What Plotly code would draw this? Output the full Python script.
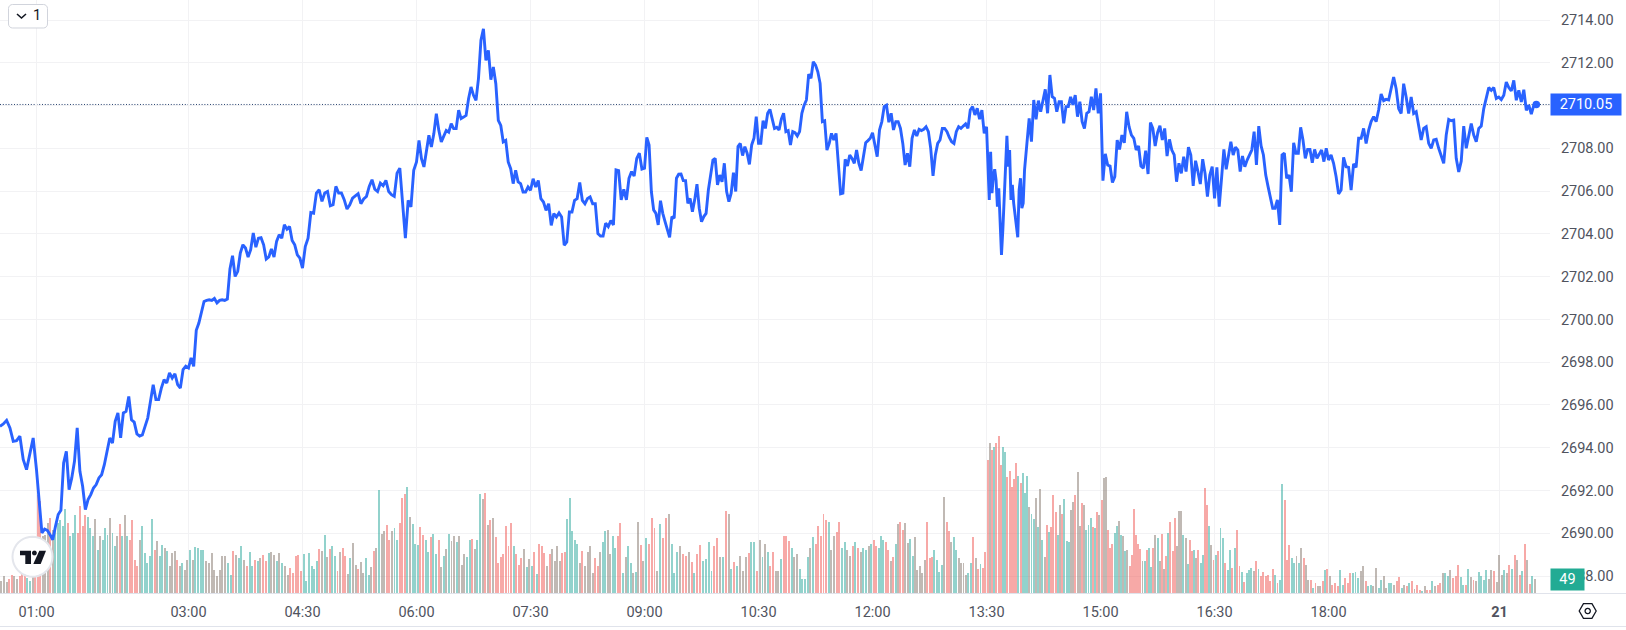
import numpy as np
import plotly.graph_objects as go

W, H = 1626, 630
tick_minutes = [60, 180, 270, 360, 450, 540, 630, 720, 810, 900, 990, 1080, 1215]
tick_labels = ["01:00", "03:00", "04:30", "06:00", "07:30", "09:00", "10:30", "12:00", "13:30", "15:00", "16:30", "18:00", "<b>21</b>"]
price_ticks = [2688, 2690, 2692, 2694, 2696, 2698, 2700, 2702, 2704, 2706, 2708, 2710, 2712, 2714]
last_price = 2710.05
last_volume = 49

price_0031 = [2695.0, 2695.11, 2695.28, 2694.93, 2694.3, 2694.33, 2694.54, 2693.45, 2692.98, 2693.68, 2694.46, 2692.98]
price_0100 = [2691.34, 2690.02, 2690.2, 2690.14, 2689.94, 2689.7, 2690.33, 2690.88, 2691.08, 2693.29, 2693.83, 2692.04, 2692.59, 2693.37, 2694.93, 2692.9, 2692.2, 2691.11, 2691.58, 2691.81, 2692.12, 2692.28, 2692.59, 2692.74, 2693.21, 2693.91, 2694.46, 2694.22, 2695.24, 2695.63, 2694.46, 2695.63, 2695.7, 2696.4, 2695.31, 2695.2, 2694.65, 2694.55, 2694.6, 2695.0, 2695.4, 2696.17, 2696.95, 2696.25, 2696.25, 2696.79, 2697.18, 2697.03, 2697.5, 2697.26, 2697.46, 2696.95, 2696.79, 2697.65, 2697.81, 2697.73]
price_0300 = [2698.2, 2697.81, 2699.49, 2699.83, 2700.38, 2700.84, 2700.89, 2700.92, 2700.89, 2700.98, 2700.77, 2700.89, 2700.92, 2700.89, 2700.95, 2702.36, 2702.98, 2702.01, 2702.25, 2703.1, 2703.49, 2703.34, 2702.92, 2703.26, 2704.04, 2703.38, 2703.8, 2703.82, 2703.49, 2702.82, 2702.92, 2703.29, 2702.92, 2703.65, 2703.96, 2703.8, 2704.43, 2704.22, 2704.35, 2703.69, 2703.49, 2703.02, 2702.87, 2702.4]
price_0430 = [2703.41, 2703.8, 2705.0, 2704.97, 2705.91, 2706.06, 2705.52, 2705.91, 2705.98, 2705.31, 2705.36, 2706.22, 2705.91, 2705.91, 2705.6, 2705.16, 2705.36, 2705.67, 2705.78, 2705.88, 2705.41, 2705.63, 2705.75, 2706.22, 2706.53, 2706.09, 2705.98, 2706.37, 2706.25, 2706.5, 2705.98, 2705.83, 2705.75, 2706.84, 2707.07, 2705.44, 2703.8, 2705.57, 2705.26, 2706.97, 2707.36]
price_0600 = [2708.37, 2707.52, 2707.13, 2707.83, 2708.61, 2708.06, 2708.69, 2709.62, 2708.84, 2708.3, 2708.61, 2708.84, 2708.76, 2709.15, 2708.92, 2708.92, 2709.78, 2709.39, 2709.46, 2709.54, 2710.32, 2710.87, 2710.48, 2710.24, 2711.26, 2713.05, 2713.59, 2712.11, 2712.58, 2711.21, 2711.8, 2711.02, 2709.31, 2709.07, 2708.3, 2708.37, 2707.36, 2707.05, 2706.35, 2706.97, 2706.43, 2706.35, 2705.96, 2705.96, 2706.19, 2706.04]
price_0730 = [2706.58, 2706.19, 2706.5, 2705.65, 2705.49, 2705.1, 2705.41, 2704.4, 2704.95, 2704.79, 2704.98, 2704.79, 2703.47, 2703.62, 2705.02, 2705.02, 2705.57, 2705.65, 2706.4, 2705.57, 2705.41, 2705.65, 2705.73, 2705.41, 2705.41, 2704.01, 2703.9, 2703.9, 2704.5, 2704.34, 2704.62, 2704.42, 2706.99, 2706.96, 2705.59, 2706.08, 2705.59, 2706.6, 2706.91, 2706.71, 2707.53, 2707.77, 2707.03, 2707.07]
price_0900 = [2708.51, 2708.16, 2705.98, 2705.12, 2704.96, 2704.42, 2705.55, 2704.96, 2704.57, 2704.18, 2703.84, 2704.81, 2704.73, 2706.6, 2706.79, 2706.8, 2706.49, 2706.49, 2705.43, 2705.66, 2705.04, 2705.59, 2706.32, 2705.2, 2704.57, 2704.81, 2704.96, 2706.05, 2706.75, 2707.45, 2707.53, 2706.29, 2706.75, 2706.44, 2707.3, 2705.98, 2705.51, 2705.9, 2706.86, 2705.98, 2708.08, 2708.23, 2707.66, 2708.08, 2707.77, 2707.25, 2708.16, 2708.47, 2709.48, 2708.23]
price_1030 = [2708.23, 2709.29, 2708.93, 2709.64, 2709.82, 2709.4, 2708.93, 2708.98, 2708.86, 2709.36, 2709.64, 2708.78, 2708.83, 2708.16, 2708.78, 2708.73, 2708.58, 2708.78, 2709.64, 2710.02, 2710.26, 2711.47, 2711.27, 2712.05, 2711.89, 2711.58, 2711.04, 2709.25, 2709.29, 2707.92, 2708.23, 2708.7, 2708.39, 2708.7, 2707.14, 2705.87, 2705.9, 2707.49, 2707.17, 2707.69, 2707.53, 2707.3, 2707.92, 2707.3, 2706.96, 2707.61, 2708.26, 2708.36, 2708.47, 2708.73]
price_1200 = [2708.16, 2707.61, 2708.86, 2709.25, 2709.95, 2710.02, 2709.22, 2709.64, 2708.86, 2709.25, 2709.25, 2708.93, 2708.23, 2707.22, 2707.77, 2707.14, 2708.47, 2708.86, 2708.58, 2708.89, 2708.83, 2708.89, 2709.01, 2708.78, 2708.0, 2706.71, 2707.69, 2708.23, 2708.39, 2708.93, 2708.93, 2708.78, 2708.51, 2708.31, 2708.23, 2708.78, 2709.01, 2708.93, 2709.04, 2709.14, 2708.93, 2709.79, 2709.95, 2709.56, 2709.87, 2709.36, 2709.79, 2708.7, 2709.01]
price_1330 = [2707.14, 2705.59, 2707.84, 2705.9, 2706.68, 2707.02, 2706.52, 2705.27, 2706.13, 2704.34, 2703.02, 2704.18, 2705.9, 2707.77, 2708.58, 2707.14, 2707.92, 2705.59, 2706.29, 2705.43, 2704.88, 2704.34, 2703.84, 2706.05, 2706.6, 2705.2, 2705.43, 2706.99]
price_1400 = [2708.39, 2709.4, 2708.31, 2710.26, 2709.36, 2710.23, 2709.71, 2710.26, 2710.76, 2709.64, 2711.43, 2710.41, 2710.34, 2709.71, 2710.18, 2710.18, 2709.17, 2709.95, 2709.95, 2710.41, 2710.03, 2710.49, 2709.48, 2710.18, 2709.25, 2708.93, 2709.64, 2709.71, 2710.41, 2709.79, 2710.8, 2709.64, 2710.57]
price_1500 = [2706.49, 2707.74, 2707.22, 2707.17, 2706.4, 2706.68, 2708.39, 2707.95, 2708.62, 2708.26, 2709.71, 2709.01, 2708.62, 2708.47, 2707.92, 2708.11, 2707.17, 2707.07, 2707.89, 2706.8, 2709.21, 2708.93, 2708.11, 2708.73, 2709.06, 2708.39, 2708.93, 2707.64, 2708.42, 2707.92, 2707.69, 2706.44, 2707.3, 2706.83, 2707.61, 2706.91, 2708.05, 2707.69, 2706.24, 2707.42, 2706.91, 2706.33, 2707.49, 2706.83, 2705.74, 2706.75, 2707.14, 2705.66]
price_1630 = [2707.11, 2705.27, 2706.6, 2707.95, 2707.02, 2707.61, 2708.31, 2707.69, 2708.05, 2707.92, 2706.91, 2707.64, 2707.14, 2707.45, 2707.69, 2707.92, 2708.78, 2707.22, 2709.04, 2708.11, 2707.69, 2706.75, 2706.21, 2705.66, 2705.2, 2705.2, 2705.59, 2704.42, 2707.69, 2707.77, 2706.6, 2706.75, 2705.97, 2708.26, 2707.77, 2707.77, 2708.98, 2708.39, 2707.53, 2707.95, 2707.95, 2707.33, 2707.95, 2707.53, 2707.74, 2707.92, 2707.38, 2708.0, 2707.45]
price_1800 = [2707.69, 2707.3, 2706.68, 2705.87, 2706.05, 2707.58, 2707.14, 2707.11, 2706.05, 2707.27, 2707.11, 2708.47, 2708.47, 2708.93, 2708.23, 2708.84, 2709.25, 2709.48, 2709.25, 2709.79, 2710.54, 2710.23, 2710.29, 2710.26, 2710.73, 2711.33, 2710.79, 2709.86, 2709.63, 2711.02, 2710.4, 2709.63, 2710.4, 2709.63, 2709.71, 2708.98, 2708.39, 2708.93, 2709.01, 2708.23, 2708.0, 2708.39, 2708.42, 2708.0, 2707.69, 2707.3, 2708.62, 2709.35, 2709.29, 2709.32, 2707.53, 2706.9, 2707.4, 2709.04, 2708.0, 2708.62, 2709.16, 2708.62, 2708.31, 2708.93, 2709.04, 2709.86, 2710.37, 2710.84, 2710.71, 2710.84, 2710.33, 2710.4, 2710.28, 2710.48, 2711.1, 2710.84, 2710.68, 2711.18, 2710.25, 2710.71, 2710.17, 2710.74, 2709.78, 2710.02, 2709.6, 2710.02, 2710.05]

vol_0031 = [45, 60, 38, 50, 65, 62, 52, 60, 70, 65, 55, 45, 60, 70]
vol_0100 = [354, 330, 204, 210, 252, 270, 228, 240, 252, 264, 240, 302, 252, 204, 216, 282, 216, 314, 240, 282, 274, 234, 204, 266, 156, 204, 192, 234, 210, 270, 216, 168, 204, 250, 204, 282, 204, 192, 262, 120, 96, 192, 240, 144, 108, 132, 266, 156, 186, 132, 174, 162, 150, 96, 144, 150, 120, 96, 108, 84, 120]
vol_0300 = [154, 120, 166, 162, 156, 156, 114, 108, 144, 84, 60, 84, 132, 132, 108, 66, 150, 138, 126, 170, 120, 96, 146, 96, 120, 114, 126, 138, 114, 144, 146, 138, 114, 144, 108, 96, 66, 90, 72, 134, 138, 78]
vol_0430 = [142, 43, 145, 99, 85, 116, 159, 153, 209, 128, 159, 168, 135, 78, 149, 162, 135, 68, 125, 180, 102, 85, 111, 71, 125, 64, 92, 153, 163, 372, 213, 224, 244, 192, 224, 234, 192, 253, 341, 355, 383, 273, 248, 178]
vol_0600 = [173, 239, 210, 192, 149, 202, 213, 142, 192, 92, 135, 159, 213, 187, 206, 185, 206, 102, 139, 131, 192, 196, 159, 192, 355, 338, 359, 244, 263, 270, 202, 107, 131, 142, 241, 168, 253, 168, 142, 102, 125, 159, 92, 121]
vol_0730 = [99, 149, 68, 178, 168, 145, 99, 139, 159, 114, 168, 114, 145, 149, 266, 341, 224, 192, 178, 107, 153, 99, 146, 170, 71, 125, 99, 149, 182, 224, 227, 142, 206, 163, 206, 253, 71, 128, 170, 107, 71, 74, 256, 173, 114]
vol_0900 = [199, 178, 270, 234, 78, 248, 199, 270, 284, 178, 71, 149, 170, 142, 135, 149, 111, 71, 142, 173, 114, 121, 182, 78, 170, 199, 128, 128, 295, 284, 85, 111, 99, 135, 78, 128, 145, 185, 185, 78]
vol_1030 = [192, 128, 178, 149, 99, 149, 78, 78, 121, 206, 206, 187, 163, 128, 142, 85, 50, 50, 128, 163, 202, 178, 241, 206, 284, 263, 256, 156, 206, 220, 256, 163, 185, 156, 135, 170, 185, 163, 149, 163, 156, 170, 178]
vol_1200 = [192, 170, 163, 206, 192, 185, 156, 114, 128, 178, 248, 256, 227, 251, 179, 193, 133, 203, 83, 97, 71, 119, 256, 125, 129, 155, 119, 77, 101, 345, 257, 225, 185, 201, 155, 125, 109, 107, 65, 71, 107, 203, 125, 85, 103, 89, 149]
vol_1330 = [479, 539, 515, 527, 539, 565, 461, 525, 509, 419, 441, 383, 409, 469, 421, 397, 431, 359, 421, 311, 285, 265, 341, 237, 373, 191, 131, 245, 221, 239, 353, 293, 209, 317, 285, 337, 189, 185, 299, 329, 353, 437, 241, 323, 317, 227, 245, 269, 239, 233, 293, 281]
vol_1500 = [336, 414, 418, 228, 162, 178, 216, 240, 258, 210, 204, 150, 156, 96, 138, 302, 210, 178, 158, 114, 114, 156, 162, 94, 162, 210, 198, 114, 212, 86, 134, 216, 254, 150, 270, 170, 296, 294, 210, 198, 106, 192, 150, 156, 126, 156, 108, 138, 378, 318, 240, 174, 120]
vol_1630 = [138, 150, 234, 198, 108, 84, 156, 90, 162, 228, 96, 74, 38, 72, 84, 90, 78, 114, 86, 60, 74, 60, 66, 42, 86, 66, 36, 48, 394, 336, 118, 174, 126, 108, 134, 108, 162, 126, 102, 48, 46, 18, 36, 24, 24, 42, 84, 86]
vol_1800 = [60, 30, 36, 24, 84, 30, 54, 36, 72, 72, 74, 54, 78, 96, 42, 24, 30, 24, 90, 18, 48, 60, 18, 36, 36, 30, 42, 58, 18, 30, 26, 36, 42, 14, 30, 10, 6, 24, 10, 10, 42, 24, 30, 36, 72, 72, 60, 84, 54, 60, 102, 58, 30, 30, 86, 58, 48, 42, 74, 60, 48, 82, 52, 82, 80, 40, 136, 64, 84, 72, 100, 88, 136, 118, 64, 80, 175, 120, 34, 60, 49]

X_AT_LEFT, X_AT_RIGHT, X_LAST = 31.2, 1254.8, 1244
Y_BOTTOM, Y_TOP = 2687.21, 2714.935
VOL_TOP = 2135
PLOT_R, PLOT_B = 1550, 593

price_segments = [(31.2, 60, price_0031, True), (60, 180, price_0100, False), (180, 270, price_0300, False),
                  (270, 360, price_0430, False), (360, 450, price_0600, False), (450, 540, price_0730, False),
                  (540, 630, price_0900, False), (630, 720, price_1030, False), (720, 810, price_1200, False),
                  (810, 840, price_1330, False), (840, 900, price_1400, False), (900, 990, price_1500, False),
                  (990, 1080, price_1630, False), (1080, X_LAST, price_1800, False)]
t_p, p = [], []
for a, b, vals, first in price_segments:
    ts = np.linspace(a, b, len(vals)) if first else np.linspace(a, b, len(vals) + 1)[1:]
    t_p.extend(ts)
    p.extend(vals)
t_p, p = np.array(t_p), np.array(p)

vol_segments = [(31.2, 60, vol_0031), (60, 180, vol_0100), (180, 270, vol_0300), (270, 360, vol_0430),
                (360, 450, vol_0600), (450, 540, vol_0730), (540, 630, vol_0900), (630, 720, vol_1030),
                (720, 810, vol_1200), (810, 900, vol_1330), (900, 990, vol_1500), (990, 1080, vol_1630),
                (1080, X_LAST, vol_1800)]
t_v, v = [], []
for a, b, vals in vol_segments:
    step = (b - a) / len(vals)
    t_v.extend(a + step * (np.arange(len(vals)) + 0.5))
    v.extend(vals)
t_v, v = np.array(t_v), np.array(v, dtype=float)

# up / down read from the price path; a slot with little net move holds both an up and a down minute
change = np.interp(t_v + 1.2, t_p, p) - np.interp(t_v - 1.2, t_p, p)
FLAT = 0.22
up = np.where(change >= FLAT, v, np.nan)
down = np.where(change <= -FLAT, v, np.nan)
both = np.where(np.abs(change) < FLAT, v, np.nan)

fig = go.Figure()
for values, colour, name in [(up, "rgba(38,166,154,0.5)", "up"), (down, "rgba(239,83,80,0.5)", "down"),
                             (both, "rgba(130,115,105,0.5)", "up and down")]:
    fig.add_bar(x=t_v, y=values, width=1.55, marker=dict(color=colour, line_width=0), yaxis="y", name=name)
fig.add_scatter(x=t_p, y=p, mode="lines", yaxis="y2", line=dict(color="#2962ff", width=2.9), name="price")
fig.add_scatter(x=[t_p[-1]], y=[p[-1]], mode="markers", yaxis="y2", marker=dict(color="#2962ff", size=7.5), name="last")


def px(x):
    return x / W


def py(y):
    return 1 - y / H


def path(points, close=True):
    s = "M " + " L ".join(f"{px(x):.5f},{py(y):.5f}" for x, y in points)
    return s + (" Z" if close else "")


def rrect(x0, y0, x1, y1, r):
    pts = []
    for cx, cy, a0 in [(x1 - r, y0 + r, -90), (x1 - r, y1 - r, 0), (x0 + r, y1 - r, 90), (x0 + r, y0 + r, 180)]:
        for a in np.radians(np.linspace(a0, a0 + 90, 5)):
            pts.append((cx + r * np.cos(a), cy + r * np.sin(a)))
    return path(pts)


def circle(cx, cy, r):
    return path([(cx + r * np.cos(a), cy + r * np.sin(a)) for a in np.linspace(0, 2 * np.pi, 40, endpoint=False)])


def paper_shape(d, fill="rgba(0,0,0,0)", line=None, width=0, layer="above"):
    return dict(type="path", xref="paper", yref="paper", path=d, fillcolor=fill, layer=layer,
                line=dict(color=line or "rgba(0,0,0,0)", width=width))


price_y = 20 + (2714 - last_price) * 21.39
shapes = [
    dict(type="line", xref="x", yref="y2", x0=X_AT_LEFT, x1=X_AT_RIGHT, y0=last_price, y1=last_price,
         line=dict(color="#2a4470", width=1, dash="1px,1.8px"), layer="below"),
    paper_shape(path([(0, PLOT_B + 0.5), (W, PLOT_B + 0.5)], False), line="#e0e3eb", width=1),
    paper_shape(path([(0, 626.5), (W, 626.5)], False), line="#e0e3eb", width=1),
    paper_shape(rrect(8.5, 4.5, 47.5, 28, 4), fill="#ffffff", line="#d1d4dc", width=1),
    paper_shape(path([(17, 14), (21.5, 18), (26, 14)], False), line="#131722", width=1.6),
    paper_shape(circle(32.5, 556.7, 20), fill="#ffffff", line="#e4e6ec", width=2),
    paper_shape(path([(20, 550.7), (31, 550.7), (31, 564), (25.3, 564), (25.3, 555.3), (20, 555.3)]), fill="#131722"),
    paper_shape(circle(34.4, 553, 2.4), fill="#131722"),
    paper_shape(path([(39.3, 550.7), (46, 550.7), (40.7, 564), (33.3, 564)]), fill="#131722"),
    paper_shape(path([(1587.7 + 8.5 * np.cos(a), 611 + 8.5 * np.sin(a)) for a in np.radians(np.arange(0, 360, 60))]),
                line="#131722", width=1.3),
    paper_shape(circle(1587.7, 611, 2.6), line="#131722", width=1.3),
]

annotations = [
    dict(xref="paper", yref="paper", x=px(1550), y=py(price_y + 0.1), text=f"{last_price:.2f}", showarrow=False,
         xanchor="left", yanchor="middle", align="center", width=70, height=20.6, bgcolor="#2962ff", borderpad=0,
         font=dict(family="Roboto", size=14.5, color="#ffffff")),
    dict(xref="paper", yref="paper", x=px(1550), y=py(579.5), text=str(last_volume), showarrow=False,
         xanchor="left", yanchor="middle", align="center", width=33, height=21, bgcolor="#22ab94", borderpad=0,
         font=dict(family="Roboto", size=14.5, color="#ffffff")),
    dict(xref="paper", yref="paper", x=px(37), y=py(15.5), text="1", showarrow=False,
         xanchor="center", yanchor="middle", font=dict(family="Roboto", size=14.5, color="#131722")),
]

fig.update_layout(
    width=W, height=H, margin=dict(l=0, r=0, t=0, b=0), paper_bgcolor="#ffffff", plot_bgcolor="#ffffff",
    barmode="overlay", bargap=0, showlegend=False, shapes=shapes, annotations=annotations,
    font=dict(family="Roboto", size=14.5, color="#50535e"),
    xaxis=dict(domain=[0, PLOT_R / W], range=[X_AT_LEFT, X_AT_RIGHT], tickmode="array", tickvals=tick_minutes,
               ticktext=tick_labels, showgrid=True, gridcolor="#f2f2f4", gridwidth=1, zeroline=False, ticks="outside",
               ticklen=6, tickcolor="rgba(0,0,0,0)", showline=False, tickfont=dict(family="Roboto", size=14.5, color="#50535e")),
    yaxis=dict(domain=[1 - PLOT_B / H, 1], range=[0, VOL_TOP], visible=False, fixedrange=True),
    yaxis2=dict(domain=[1 - PLOT_B / H, 1], range=[Y_BOTTOM, Y_TOP], overlaying="y", side="right", anchor="x",
                tickmode="array", tickvals=price_ticks, ticktext=[f"{t:.2f}" for t in price_ticks],
                showgrid=True, gridcolor="#f2f2f4", gridwidth=1, zeroline=False, ticks="outside", ticklen=7,
                tickcolor="rgba(0,0,0,0)", showline=False, tickfont=dict(family="Roboto", size=14.5, color="#50535e")),
)

fig.write_html("out.html", config=dict(displayModeBar=False),
               post_script="document.body.style.margin='0';document.body.style.overflow='hidden';")
